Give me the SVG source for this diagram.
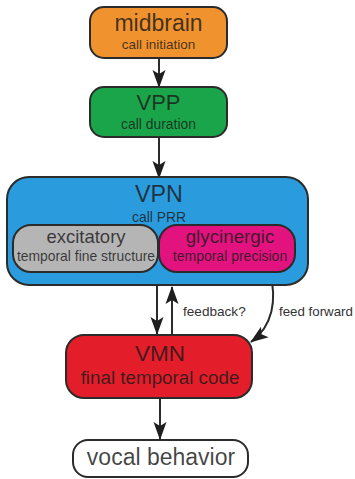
<svg xmlns="http://www.w3.org/2000/svg" width="355" height="479" viewBox="0 0 355 479">
  <style>
    .box { stroke: #2b2b2b; stroke-width: 2; }
    .t { font-family: "Liberation Sans", Arial, sans-serif; text-anchor: middle; fill: #1a1a1a; fill-opacity: 0.82; }
    .lbl { font-family: "Liberation Sans", Arial, sans-serif; fill: #333; font-size: 13.6px; }
    .wire { stroke: #2b2b2b; stroke-width: 2; fill: none; }
  </style>
  <defs>
    <marker id="arrow" viewBox="0 -7 18 14" refX="17" refY="0" markerWidth="18" markerHeight="14" markerUnits="userSpaceOnUse" orient="auto">
      <path d="M0,-6.5 L18,0 L0,6.5 L4,0 Z" fill="#1f1f1f"/>
    </marker>
  </defs>

  <rect width="355" height="479" fill="#ffffff"/>

  <!-- connectors -->
  <g id="connectors">
    <line class="wire" x1="159" y1="58" x2="159" y2="87" marker-end="url(#arrow)"/>
    <line class="wire" x1="159" y1="137" x2="159" y2="178" marker-end="url(#arrow)"/>
    <line class="wire" x1="157" y1="285" x2="157" y2="334" marker-end="url(#arrow)"/>
    <line class="wire" x1="172" y1="335" x2="172" y2="287" marker-end="url(#arrow)"/>
    <path class="wire" d="M270,272 C277,300 273,326 251,342" marker-end="url(#arrow)"/>
    <line class="wire" x1="160" y1="398" x2="160" y2="439" marker-end="url(#arrow)"/>
    <text class="lbl" x="183" y="316">feedback?</text>
    <text class="lbl" x="279" y="316" style="font-size:13.3px">feed forward</text>
  </g>

  <!-- midbrain -->
  <g id="midbrain">
    <rect class="box" x="90" y="7" width="137" height="51" rx="14" fill="#F0922E"/>
    <text class="t" x="158.5" y="31" font-size="23">midbrain</text>
    <text class="t" x="158.5" y="49" font-size="13.5">call initiation</text>
  </g>

  <!-- VPP -->
  <g id="vpp">
    <rect class="box" x="90" y="87" width="137" height="50" rx="14" fill="#1BA54A"/>
    <text class="t" x="158.5" y="110" font-size="22">VPP</text>
    <text class="t" x="158.5" y="129" font-size="13.9">call duration</text>
  </g>

  <!-- VPN -->
  <g id="vpn">
    <rect class="box" x="7" y="177" width="301" height="108" rx="22" fill="#2A9CDD"/>
    <text class="t" x="159" y="202" font-size="23.3">VPN</text>
    <text class="t" x="159" y="222" font-size="13.9">call PRR</text>
  </g>

  <!-- excitatory -->
  <g id="excitatory">
    <rect class="box" x="13" y="225" width="145" height="47" rx="18" fill="#B5B5B5"/>
    <text class="t" x="86" y="243" font-size="18.5">excitatory</text>
    <text class="t" x="86" y="261" font-size="13.9">temporal fine structure</text>
  </g>

  <!-- glycinergic -->
  <g id="glycinergic">
    <rect class="box" x="159" y="225" width="136" height="47" rx="18" fill="#E2127F"/>
    <text class="t" x="230" y="243" font-size="18.8">glycinergic</text>
    <text class="t" x="230" y="261" font-size="14">temporal precision</text>
  </g>

  <!-- VMN -->
  <g id="vmn">
    <rect class="box" x="66" y="335" width="186" height="63" rx="18" fill="#E31E2A"/>
    <text class="t" x="160" y="361" font-size="22.5">VMN</text>
    <text class="t" x="160" y="384" font-size="18.8">final temporal code</text>
  </g>

  <!-- vocal behavior -->
  <g id="vocal">
    <rect class="box" x="73" y="440" width="175" height="37" rx="15" fill="#ffffff"/>
    <text class="t" x="161" y="465" font-size="23">vocal behavior</text>
  </g>
</svg>
